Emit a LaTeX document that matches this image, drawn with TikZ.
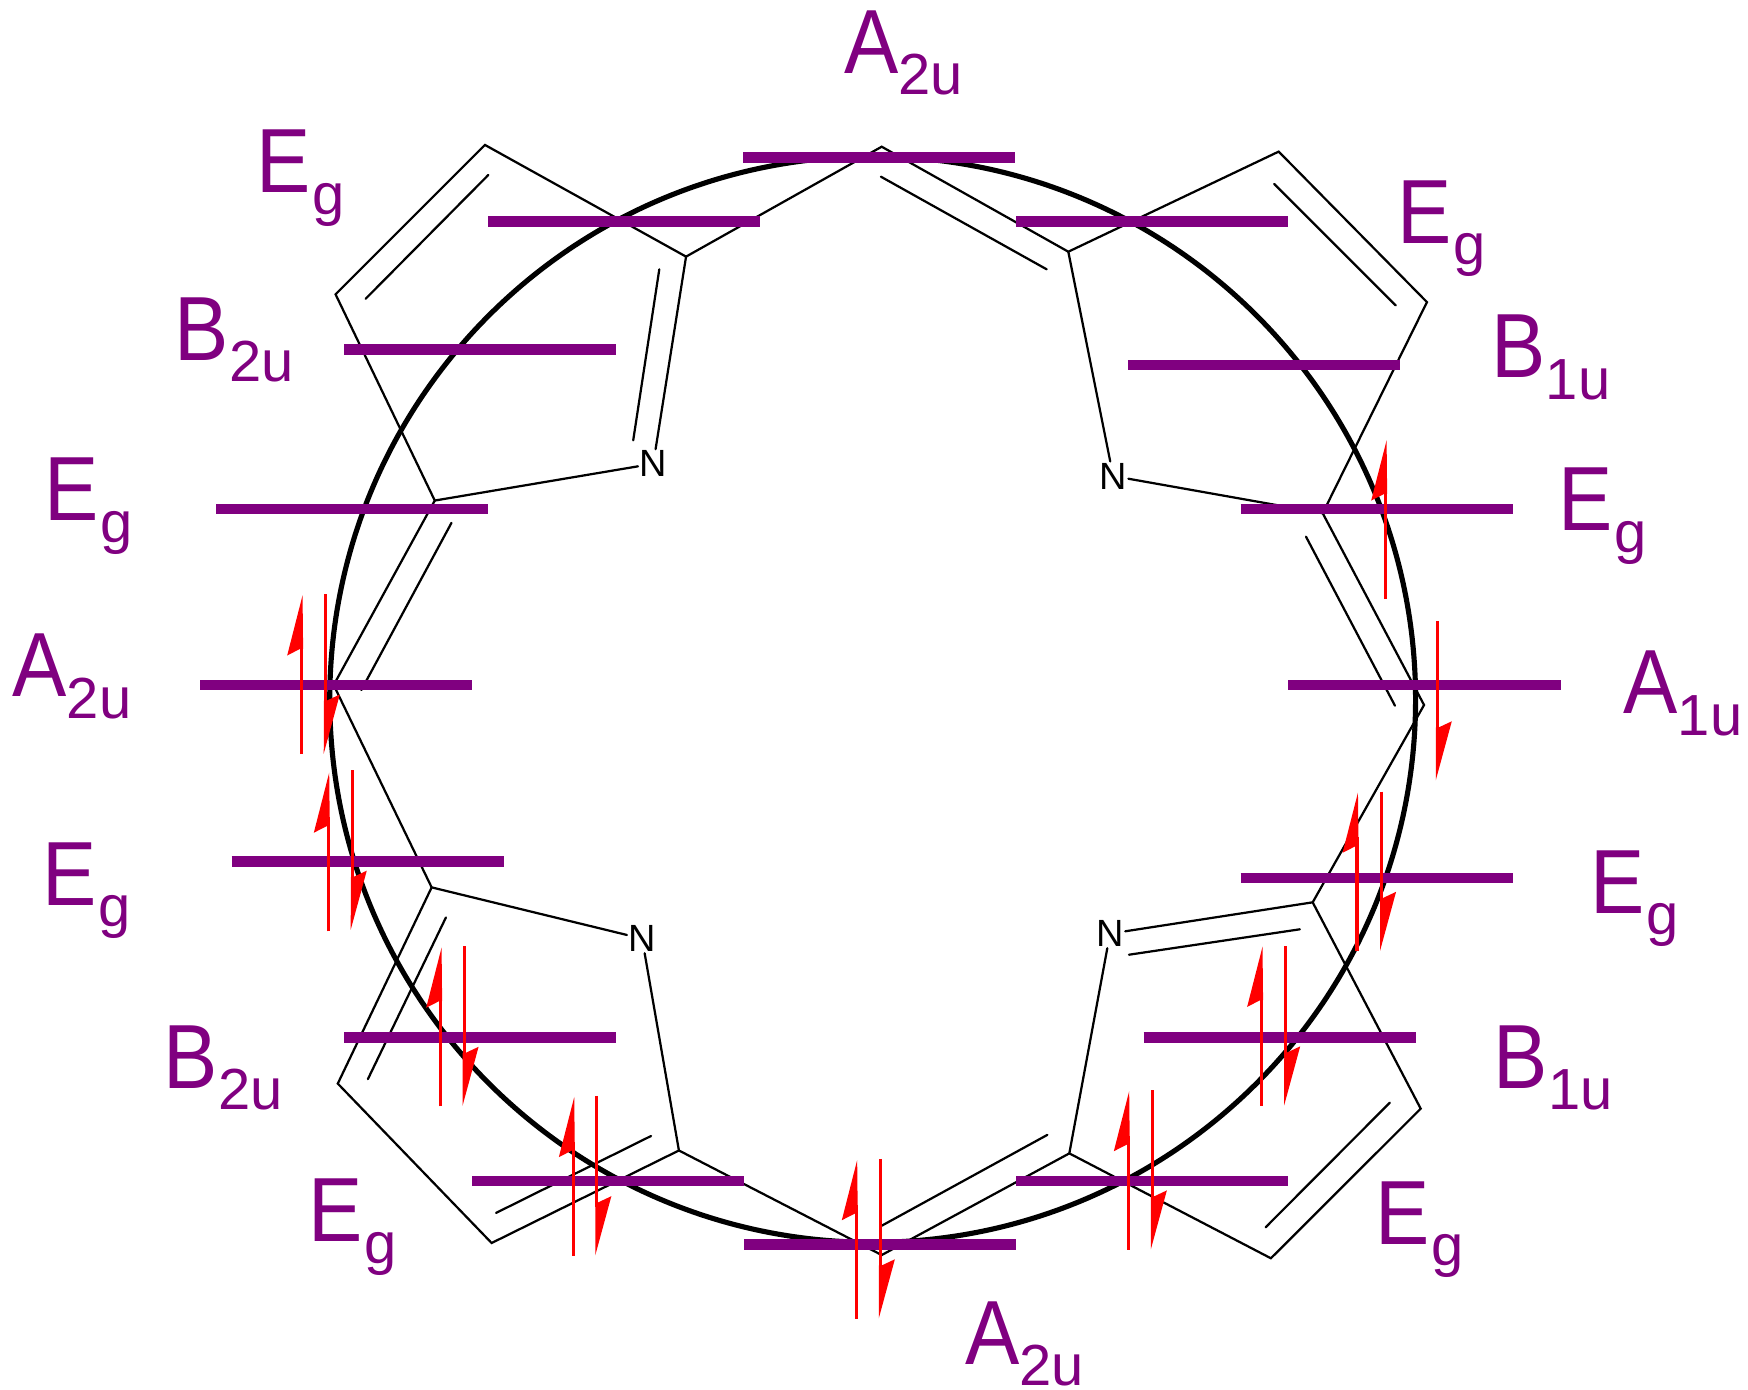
\documentclass[tikz,border=0pt]{standalone}
\usepackage{fontspec}
\setmainfont{Liberation Sans}
\definecolor{lvl}{RGB}{128,0,128}
\newcommand{\lab}[2]{\scalebox{1}[1.12]{\fontsize{36.5}{36.5}\selectfont #1}\raisebox{-9.7pt}{\fontsize{26}{26}\selectfont #2}}
\newcommand{\harpup}[2]{%
  \draw[spinline] (#1,#2+142.5) -- (#1,#2+40);
  \fill[red] (#1+0.8,#2) -- (#1-13,#2+54) -- (#1-1.3,#2+48) -- (#1+1.3,#2+48) -- cycle;}
\newcommand{\harpdown}[2]{%
  \draw[spinline] (#1,#2) -- (#1,#2+100);
  \fill[red] (#1-1.4,#2+143) -- (#1+13,#2+90) -- (#1+1.3,#2+95.5) -- (#1-1.3,#2+95.5) -- cycle;}
\begin{document}
\begin{tikzpicture}[x=0.5pt,y=-0.5pt,
  bond/.style={line width=1pt,line cap=round,line join=miter,black},
  ring/.style={line width=2.3pt,black},
  level/.style={line width=4.8pt,lvl},
  spinline/.style={line width=1.4pt,red},
  term/.style={inner sep=0pt,text=lvl,anchor=base west},
  atom/.style={inner sep=0.5pt,text=black,font=\fontsize{17}{17}\selectfont}]
\useasboundingbox (0,0) rectangle (1568,1246);
% ring
\coordinate (c) at (782.8,627.4);
\draw[ring] (c) circle[radius=487];
% skeleton vertices
\coordinate (a1) at (790.9,131.6);  \coordinate (a2) at (615.4,230.2);
\coordinate (a3) at (435,130);  \coordinate (a4) at (301,264);
\coordinate (a5) at (390,449);  \coordinate (a6) at (299.3,614.5);
\coordinate (a7) at (387.2,796);  \coordinate (a8) at (303,972);
\coordinate (a9) at (441,1115); \coordinate (a10) at (609,1032);
\coordinate (a11) at (790.9,1125.8);\coordinate (a12) at (959.2,1034.6);
\coordinate (a13) at (1140,1128.7);\coordinate (a14) at (1274.4,994.5);
\coordinate (a15) at (1177.5,809.4);\coordinate (a16) at (1277.4,632.4);
\coordinate (a17) at (1186.5,460.4);\coordinate (a18) at (1280,271);
\coordinate (a19) at (1147,136);\coordinate (a20) at (958.3,225.8);
\node[atom] (n1) at (586,416) {N};
\node[atom] (n2) at (998.5,427) {N};
\node[atom] (n3) at (576,842) {N};
\node[atom] (n4) at (995.7,837.5) {N};
\draw[bond] (a1)--(a2)--(a3)--(a4)--(a5)--(a6)--(a7)--(a8)--(a9)--(a10)--(a11)--(a12)--(a13)--(a14)--(a15)--(a16)--(a17)--(a18)--(a19)--(a20)--cycle;
\draw[bond] (a2)--(n1) (a5)--(n1);
\draw[bond] (a7)--(n3) (a10)--(n3);
\draw[bond] (a12)--(n4) (a15)--(n4);
\draw[bond] (a17)--(n2) (a20)--(n2);
% inner double bonds
\coordinate (d1a) at (790.2,158.5);  \coordinate (d1b) at (938.9,241.6);
\coordinate (d2a) at (438,157);  \coordinate (d2b) at (328,268);
\coordinate (d3a) at (591.4,241.6);  \coordinate (d3b) at (568,395);
\coordinate (d4a) at (405,469);  \coordinate (d4b) at (324.1,619);
\coordinate (d5a) at (400,823);  \coordinate (d5b) at (330,968);
\coordinate (d6a) at (445,1088); \coordinate (d6b) at (584,1019);
\coordinate (d7a) at (790.9,1099.5); \coordinate (d7b) at (939.5,1018);
\coordinate (d8a) at (1135.3,1100.9);\coordinate (d8b) at (1246.8,989);
\coordinate (d9a) at (1012.7,856.4); \coordinate (d9b) at (1166,833.6);
\coordinate (d10a) at (1171.5,481.4);\coordinate (d10b) at (1251.3,633);
\coordinate (d11a) at (1252,274);\coordinate (d11b) at (1143,165);
\foreach \i in {1,...,11}{\draw[bond] (d\i a)--(d\i b);}
% levels
\foreach \xa/\yy in {667/141,438/198,912/198,309/313,1012/327,194/456,1113/456,180/614,1156/614,208/772,1113/787,309/930,1026/930,424/1059,912/1059,668/1116}{
  \draw[level] (\xa-0.2,\yy+0.5) -- (\xa+243.8,\yy+0.5);}
% spins
\harpup{1243}{395}
\harpdown{1289.3}{557}
\harpup{270.6}{534}\harpdown{291.8}{533}
\harpup{294.5}{693}\harpdown{316}{691}
\harpup{395.3}{850}\harpdown{416.3}{849}
\harpup{514.3}{984}\harpdown{535.4}{983}
\harpup{768.1}{1040.6}\harpdown{789.7}{1039.6}
\harpup{1012.1}{978.7}\harpdown{1033.7}{977.8}
\harpup{1131.7}{849.2}\harpdown{1153.3}{848.6}
\harpup{1217.3}{711}\harpdown{1239.3}{710}
% labels
\node[term] (t1) at (757,65.8) {\lab{A}{2u}};
\node[term] (t2) at (229.5,173) {\lab{E}{\kern0.8pt g}};
\node[term] (t3) at (1253.5,218) {\lab{E}{\kern0.8pt g}};
\node[term] (t4) at (156.5,323) {\lab{B}{2u}};
\node[term] (t5) at (1337.5,339) {\lab{B}{1u}};
\node[term] (t6) at (39.5,467) {\lab{E}{\kern0.8pt g}};
\node[term] (t7) at (1397.5,476) {\lab{E}{\kern0.8pt g}};
\node[term] (t8) at (11,625) {\lab{A}{2u}};
\node[term] (t9) at (1456,640) {\lab{A}{1u}};
\node[term] (t10) at (37.5,812) {\lab{E}{\kern0.8pt g}};
\node[term] (t11) at (1426.5,819) {\lab{E}{\kern0.8pt g}};
\node[term] (t12) at (146.5,976) {\lab{B}{2u}};
\node[term] (t13) at (1339.5,976) {\lab{B}{1u}};
\node[term] (t14) at (276.5,1114) {\lab{E}{\kern0.8pt g}};
\node[term] (t15) at (1233.5,1116) {\lab{E}{\kern0.8pt g}};
\node[term] (t16) at (865.6,1223.8) {\lab{A}{2u}};
\end{tikzpicture}
\end{document}
